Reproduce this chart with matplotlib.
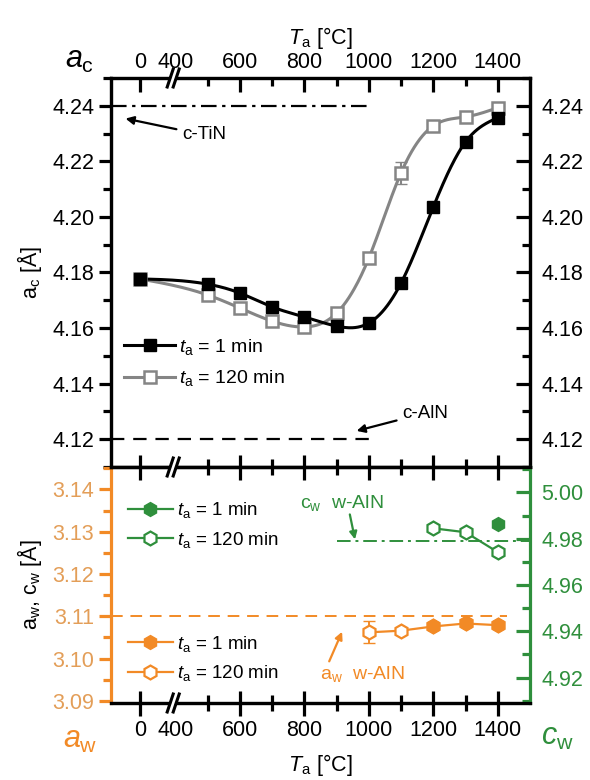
import numpy as np
import matplotlib

matplotlib.use("Agg")
import matplotlib.pyplot as plt
from matplotlib.ticker import FixedLocator, MultipleLocator
from matplotlib.lines import Line2D
from matplotlib.patches import Polygon

plt.rcParams["font.family"] = ["Liberation Sans", "DejaVu Sans"]
plt.rcParams["mathtext.fontset"] = "custom"
plt.rcParams["mathtext.rm"] = "Liberation Sans"
plt.rcParams["mathtext.it"] = "Liberation Sans:italic"

# annealing temperatures (0 = as deposited)
temps = [0, 500, 600, 700, 800, 900, 1000, 1100, 1200, 1300, 1400]
ac_1min = [4.1777, 4.1758, 4.1726, 4.1676, 4.1640, 4.1607, 4.1618, 4.1762, 4.2036, 4.2270, 4.2357]
ac_120min = [4.1777, 4.1719, 4.1672, 4.1625, 4.1604, 4.1654, 4.1852, 4.2159, 4.2328, 4.2360, 4.2393]
ac_120min_err = [0, 0, 0, 0, 0, 0, 0.0015, 0.004, 0.0015, 0, 0]

aw_temps_1min = [1200, 1300, 1400]
aw_1min = [3.1076, 3.1083, 3.1079]
aw_temps_120min = [1000, 1100, 1200, 1300, 1400]
aw_120min = [3.1062, 3.1066, 3.1076, 3.1083, 3.1079]
aw_120min_err = [0.0026, 0, 0, 0, 0]

cw_temps_1min = [1400]
cw_1min = [4.9862]
cw_temps_120min = [1200, 1300, 1400]
cw_120min = [4.9845, 4.9828, 4.9742]

ac_TiN = 4.24
ac_AlN = 4.12
aw_AlN = 3.110
cw_AlN = 4.979

xticks = [0, 400, 600, 800, 1000, 1200, 1400]
xminor = [500, 700, 900, 1100, 1300]

ORANGE = "#F28A26"
ORANGE_TXT = "#E39E58"
GREEN = "#2F8F3C"
GRAY = "#858585"


def xp(t):
    # the 0 point sits left of the axis break
    t = np.asarray(t, float)
    return np.where(t == 0, 290, t)


def smooth(x, y, n=400):
    # natural cubic spline through the measured points
    x = np.asarray(x, float)
    y = np.asarray(y, float)
    k = len(x)
    h = np.diff(x)
    A = np.zeros((k, k))
    r = np.zeros(k)
    A[0, 0] = A[-1, -1] = 1
    for i in range(1, k - 1):
        A[i, i - 1] = h[i - 1]
        A[i, i] = 2 * (h[i - 1] + h[i])
        A[i, i + 1] = h[i]
        r[i] = 3 * ((y[i + 1] - y[i]) / h[i] - (y[i] - y[i - 1]) / h[i - 1])
    c = np.linalg.solve(A, r)
    b = (y[1:] - y[:-1]) / h - h * (2 * c[:-1] + c[1:]) / 3
    d = (c[1:] - c[:-1]) / (3 * h)
    xs = np.linspace(x[0], x[-1], n)
    idx = np.clip(np.searchsorted(x, xs) - 1, 0, k - 2)
    dx = xs - x[idx]
    ys = y[idx] + b[idx] * dx + c[idx] * dx ** 2 + d[idx] * dx ** 3
    return xs, ys


fig = plt.figure(figsize=(5.9, 7.8), dpi=100)
W, H = 590, 780
L, R = 111, 530
ax1 = fig.add_axes([L / W, 1 - 467 / H, (R - L) / W, (467 - 78) / H])
ax2 = fig.add_axes([L / W, 1 - 703 / H, (R - L) / W, (703 - 467) / H])

for ax in (ax1, ax2):
    ax.set_xlim(200, 1500)
    for s in ax.spines.values():
        s.set_linewidth(2.3)
    ax.xaxis.set_major_locator(FixedLocator(list(xp(xticks))))
    ax.xaxis.set_minor_locator(FixedLocator(xminor))

# ---------- top panel: a_c ----------
ax1.set_ylim(4.11, 4.25)
ax1.yaxis.set_major_locator(MultipleLocator(0.02))
ax1.yaxis.set_minor_locator(MultipleLocator(0.01))
ax1.yaxis.set_major_formatter(plt.FormatStrFormatter("%.2f"))
ax1.tick_params(axis="y", which="both", direction="out", width=2.3, labelsize=15.5, pad=3)
ax1.tick_params(axis="y", which="major", length=9)
ax1.tick_params(axis="y", which="minor", length=6)
ax1.tick_params(axis="x", which="both", direction="in", bottom=False, top=True,
                labelbottom=False, labeltop=True, width=2.3, labelsize=15.5)
ax1.tick_params(axis="x", which="major", length=10)
ax1.tick_params(axis="x", which="minor", length=6)
ax1.set_xticklabels([str(t) for t in xticks])
ax1.xaxis.get_major_ticks()[1].tick2line.set_visible(False)

ax1r = ax1.twinx()
ax1r.set_ylim(ax1.get_ylim())
ax1r.yaxis.set_major_locator(MultipleLocator(0.02))
ax1r.yaxis.set_minor_locator(MultipleLocator(0.01))
ax1r.yaxis.set_major_formatter(plt.FormatStrFormatter("%.2f"))
ax1r.tick_params(axis="y", which="both", direction="in", width=2.3, labelsize=15.5, pad=8)
ax1r.tick_params(axis="y", which="major", length=10)
ax1r.tick_params(axis="y", which="minor", length=6)
for s in ax1r.spines.values():
    s.set_linewidth(2.3)

ax1.plot([200, 1000], [ac_TiN, ac_TiN], color="black", lw=1.6, dashes=(7, 2.5, 1.5, 2.5))
ax1.plot([200, 1000], [ac_AlN, ac_AlN], color="black", lw=1.6, dashes=(6, 4))
ax1.annotate("c-TiN", xy=(245, 4.2354), xytext=(420, 4.2295), fontsize=13.5,
             va="center", arrowprops=dict(arrowstyle="-|>", color="black", lw=1.6,
                                          mutation_scale=12, shrinkB=0, shrinkA=2))
ax1.annotate("c-AlN", xy=(962, 4.1230), xytext=(1103, 4.1294), fontsize=13.5,
             va="center", arrowprops=dict(arrowstyle="-|>", color="black", lw=1.6,
                                          mutation_scale=12, shrinkB=0, shrinkA=2))

xs, ys = smooth(xp(temps), ac_120min)
ax1.plot(xs, ys, color=GRAY, lw=2.2, zorder=3)
xs, ys = smooth(xp(temps), ac_1min)
ax1.plot(xs, ys, color="black", lw=2.2, zorder=4)
ax1.errorbar(xp(temps), ac_120min, yerr=ac_120min_err, fmt="none", ecolor=GRAY,
             elinewidth=1.5, capsize=4, zorder=3)
ax1.plot(xp(temps), ac_120min, "s", ms=9, mfc="white", mec=GRAY, mew=1.8, zorder=5)
ax1.plot(xp(temps), ac_1min, "s", ms=9, color="black", zorder=6)

h1 = Line2D([], [], color="black", lw=2.2, marker="s", ms=9)
h2 = Line2D([], [], color=GRAY, lw=2.2, marker="s", ms=9, mfc="white", mec=GRAY, mew=1.8)
ax1r.legend([h1, h2], [r"$t_{\rm a}$ = 1 min", r"$t_{\rm a}$ = 120 min"],
            loc="upper left", bbox_to_anchor=(-0.01, 0.38), frameon=False,
            fontsize=14, handlelength=2.6, handletextpad=0.2, labelspacing=0.6)

ax1.set_ylabel(r"a$_{\rm c}$ [Å]", fontsize=15.5, labelpad=6)
ax1.set_xlabel(r"$T_{\rm a}$ [°C]", fontsize=15.5, labelpad=6)
ax1.xaxis.set_label_position("top")

# ---------- bottom panel: a_w (left), c_w (right) ----------
ax2.set_ylim(3.0895, 3.1453)
ax2.yaxis.set_major_locator(MultipleLocator(0.01))
ax2.yaxis.set_minor_locator(MultipleLocator(0.005))
ax2.yaxis.set_major_formatter(plt.FormatStrFormatter("%.2f"))
ax2.tick_params(axis="y", which="both", direction="out", width=2.3, colors=ORANGE,
                labelcolor=ORANGE_TXT, labelsize=15.5, pad=3)
ax2.tick_params(axis="y", which="major", length=9)
ax2.tick_params(axis="y", which="minor", length=6)
ax2.tick_params(axis="x", which="both", direction="inout", top=True, bottom=True,
                width=2.3, labelsize=15.5)
ax2.tick_params(axis="x", which="major", length=18)
ax2.tick_params(axis="x", which="minor", length=12)
ax2.set_xticklabels([str(t) for t in xticks])
ax2.xaxis.get_major_ticks()[1].tick1line.set_visible(False)
ax2.xaxis.get_major_ticks()[1].tick2line.set_visible(False)
ax2.spines["left"].set_color(ORANGE)
ax2.spines["right"].set_visible(False)

ax2r = ax2.twinx()
ax2r.set_ylim(4.909, 5.011)
ax2r.yaxis.set_major_locator(MultipleLocator(0.02))
ax2r.yaxis.set_minor_locator(MultipleLocator(0.01))
ax2r.yaxis.set_major_formatter(plt.FormatStrFormatter("%.2f"))
ax2r.tick_params(axis="y", which="both", direction="in", width=2.3, colors=GREEN,
                 labelsize=15.5, pad=8)
ax2r.tick_params(axis="y", which="major", length=10)
ax2r.tick_params(axis="y", which="minor", length=6)
for name, s in ax2r.spines.items():
    s.set_linewidth(2.3)
ax2r.spines["left"].set_visible(False)
ax2r.spines["right"].set_color(GREEN)

ax2.plot([200, 1430], [aw_AlN, aw_AlN], color=ORANGE, lw=1.4, dashes=(6, 4))
ax2r.plot([900, 1500], [cw_AlN, cw_AlN], color=GREEN, lw=1.4, dashes=(7, 2.5, 1.5, 2.5))

ax2.errorbar(aw_temps_120min, aw_120min, yerr=aw_120min_err, color=ORANGE, lw=1.6,
             fmt="-", capsize=4, elinewidth=1.4, zorder=3)
ax2.plot(aw_temps_120min, aw_120min, "h", ms=10, mfc="white", mec=ORANGE, mew=1.6, zorder=4)
ax2.plot(aw_temps_1min, aw_1min, "h", ms=10, color=ORANGE, zorder=5)

ax2r.plot(cw_temps_120min, cw_120min, "-", color=GREEN, lw=1.6, zorder=3)
ax2r.plot(cw_temps_120min, cw_120min, "h", ms=10, mfc="white", mec=GREEN, mew=1.6, zorder=4)
ax2r.plot(cw_temps_1min, cw_1min, "h", ms=10, color=GREEN, zorder=5)

ax2r.annotate("", xy=(957, 4.9797), xytext=(941, 4.9905),
              arrowprops=dict(arrowstyle="-|>", color=GREEN, lw=1.6, mutation_scale=11,
                              shrinkA=0, shrinkB=0))
ax2r.text(785, 4.9955, r"c$_{\rm w}$  w-AlN", color=GREEN, fontsize=14, va="center")
ax2r.annotate("", xy=(917, 4.9398), xytext=(877, 4.9270),
              arrowprops=dict(arrowstyle="-|>", color=ORANGE, lw=1.6, mutation_scale=11,
                              shrinkA=0, shrinkB=0))
ax2r.text(848, 4.9215, r"a$_{\rm w}$  w-AlN", color=ORANGE, fontsize=14, va="center")

g1 = Line2D([], [], color=GREEN, lw=1.6, marker="h", ms=10)
g2 = Line2D([], [], color=GREEN, lw=1.6, marker="h", ms=10, mfc="white", mec=GREEN, mew=1.6)
o1 = Line2D([], [], color=ORANGE, lw=1.6, marker="h", ms=10)
o2 = Line2D([], [], color=ORANGE, lw=1.6, marker="h", ms=10, mfc="white", mec=ORANGE, mew=1.6)
labs = [r"$t_{\rm a}$ = 1 min", r"$t_{\rm a}$ = 120 min"]
leg_g = ax2r.legend([g1, g2], labs, loc="upper left", bbox_to_anchor=(0.0, 0.93),
                    frameon=False, fontsize=13.5, handlelength=2.4, handletextpad=0.2,
                    labelspacing=0.5)
ax2r.add_artist(leg_g)
ax2r.legend([o1, o2], labs, loc="upper left", bbox_to_anchor=(0.0, 0.364),
            frameon=False, fontsize=13.5, handlelength=2.4, handletextpad=0.2,
            labelspacing=0.5)

ax2.set_ylabel(r"a$_{\rm w}$, c$_{\rm w}$ [Å]", fontsize=15.5, labelpad=6)
ax2.set_xlabel(r"$T_{\rm a}$ [°C]", fontsize=15.5, labelpad=8)

# panel symbols
fig.text(80 / W, 1 - 60 / H, r"$a_{\rm c}$", fontsize=22, ha="center", va="center")
fig.text(80 / W, 1 - 740 / H, r"$a_{\rm w}$", fontsize=22, ha="center", va="center", color=ORANGE)
fig.text(557 / W, 1 - 737 / H, r"$c_{\rm w}$", fontsize=22, ha="center", va="center", color=GREEN)

# axis break marks "//"
xb = ax1.transData.transform((393, 0))[0]
for yb in (78, 467, 703):
    y0 = H - yb
    poly = Polygon([(xb - 5, y0 - 9), (xb + 1, y0 + 9), (xb + 5, y0 + 9), (xb - 1, y0 - 9)],
                   closed=True, facecolor="white", edgecolor="none", transform=None, zorder=20)
    fig.patches.append(poly)
    for dx in (-5, 1):
        fig.lines.append(Line2D([xb + dx - 1, xb + dx + 5], [y0 - 9, y0 + 9], color="black",
                                lw=2.2, transform=None, zorder=21))

fig.savefig("out.png", dpi=100)
